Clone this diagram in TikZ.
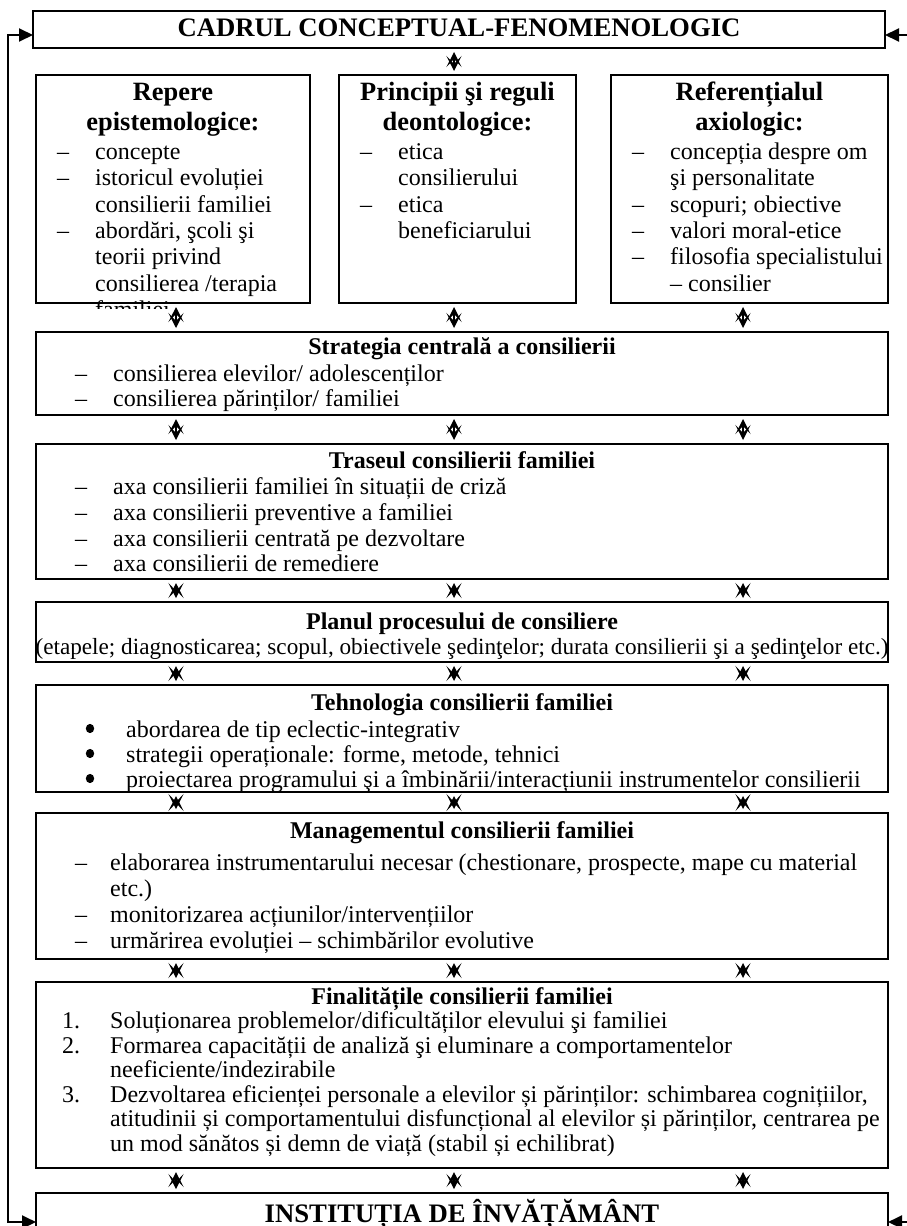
\documentclass[tikz,border=0pt]{standalone}
\usepackage{fontspec}
\setmainfont{Liberation Serif}
\usetikzlibrary{arrows.meta}
\newcommand{\dsh}[1]{\makebox[#1][l]{–}}
\newcommand{\ind}[1]{\hspace*{#1}}
\begin{document}
\begin{tikzpicture}[x=1pt,y=-1pt,
  box/.style={draw, line width=2pt, inner sep=0pt, outer sep=0pt, anchor=north west},
  body/.style={inner sep=0pt, anchor=base west, font=\fontsize{24}{26}\selectfont},
  head/.style={inner sep=0pt, anchor=base, font=\fontsize{24}{26}\selectfont\bfseries},
  bhead/.style={inner sep=0pt, anchor=base, font=\fontsize{26.4}{30}\selectfont\bfseries},
  bullet/.style={fill=black},
  link/.style={line width=1.5pt, shorten <=4pt, shorten >=4pt,
     {Stealth[length=15pt,width=15pt,inset=8pt]}-{Stealth[length=15pt,width=15pt,inset=8pt]}},
  feed/.style={line width=2pt, -{Triangle[length=14pt,width=13pt]}}]
\clip (0,0) rectangle (907,1226);
\useasboundingbox (0,0) rectangle (907,1226);
% boxes
\node[box, minimum width=852pt, minimum height=37pt] (top) at (33,11) {};
\node[box, minimum width=274pt, minimum height=228pt] (b1) at (36,75) {};
\node[box, minimum width=237pt, minimum height=228pt] (b2) at (339,75) {};
\node[box, minimum width=277pt, minimum height=228pt] (b3) at (611,75) {};
\node[box, minimum width=852pt, minimum height=83pt] (strat) at (36,332) {};
\node[box, minimum width=852pt, minimum height=135pt] (tras) at (36,444) {};
\node[box, minimum width=852pt, minimum height=60pt] (plan) at (36,602) {};
\node[box, minimum width=852pt, minimum height=107pt] (tehn) at (36,685) {};
\node[box, minimum width=852pt, minimum height=146pt] (mgmt) at (36,813) {};
\node[box, minimum width=852pt, minimum height=186pt] (fin) at (36,982) {};
\node[box, minimum width=852pt, minimum height=60pt] (inst) at (36,1193) {};
% title
\node[bhead, font=\fontsize{26.7}{30}\selectfont\bfseries] (ttop) at (459,36.7) {CADRUL CONCEPTUAL-FENOMENOLOGIC};
% box 1
\node[bhead] (h1a) at (173,100.7) {Repere};
\node[bhead] (h1b) at (173,130.7) {epistemologice:};
\node[body] (l1a) at (57,159.3) {\dsh{38pt}concepte};
\node[body] (l1b) at (57,185.7) {\dsh{38pt}istoricul evoluției};
\node[body] (l1c) at (57,212.1) {\ind{38pt}consilierii familiei};
\node[body] (l1d) at (57,238.5) {\dsh{38pt}abordări, şcoli şi};
\node[body] (l1e) at (57,264.9) {\ind{38pt}teorii privind};
\node[body] (l1f) at (57,291.3) {\ind{38pt}consilierea /terapia};
\begin{scope}
\clip (36,75) rectangle (310,308);
\node[body] (l1g) at (57,317.7) {\ind{38pt}familiei};
\end{scope}
% box 2
\node[bhead] (h2a) at (457.5,100.7) {Principii şi reguli};
\node[bhead] (h2b) at (457.5,130.7) {deontologice:};
\node[body] (l2a) at (360,159.3) {\dsh{38pt}etica};
\node[body] (l2b) at (360,185.7) {\ind{38pt}consilierului};
\node[body] (l2c) at (360,212.1) {\dsh{38pt}etica};
\node[body] (l2d) at (360,238.5) {\ind{38pt}beneficiarului};
% box 3
\node[bhead] (h3a) at (749.5,100.7) {Referențialul};
\node[bhead] (h3b) at (749.5,130.7) {axiologic:};
\node[body] (l3a) at (632,159.3) {\dsh{38pt}concepția despre om};
\node[body] (l3b) at (632,185.7) {\ind{38pt}şi personalitate};
\node[body] (l3c) at (632,212.1) {\dsh{38pt}scopuri; obiective};
\node[body] (l3d) at (632,238.5) {\dsh{38pt}valori moral-etice};
\node[body] (l3e) at (632,264.9) {\dsh{38pt}filosofia specialistului};
\node[body] (l3f) at (632,291.3) {\ind{38pt}– consilier};
% strategia
\node[head] (hs) at (462,354.5) {Strategia centrală a consilierii};
\node[body] (ls1) at (75,381.5) {\dsh{38pt}consilierea elevilor/ adolescenților};
\node[body] (ls2) at (75,406.5) {\dsh{38pt}consilierea părinților/ familiei};
% traseul
\node[head] (ht) at (462,468.3) {Traseul consilierii familiei};
\node[body] (lt1) at (75,494.3) {\dsh{38pt}axa consilierii familiei în situații de criză};
\node[body] (lt2) at (75,520) {\dsh{38pt}axa consilierii preventive a familiei};
\node[body] (lt3) at (75,546) {\dsh{38pt}axa consilierii centrată pe dezvoltare};
\node[body] (lt4) at (75,571.7) {\dsh{38pt}axa consilierii de remediere};
% planul
\node[head] (hp) at (462,629) {Planul procesului de consiliere};
\node[body, anchor=base, font=\fontsize{23.2}{26}\selectfont] (lp) at (462,654) {(etapele; diagnosticarea; scopul, obiectivele şedinţelor; durata consilierii şi a şedinţelor etc.)};
% tehnologia
\node[head] (hte) at (462,710) {Tehnologia consilierii familiei};
\node[body] (le1) at (126,737) {abordarea de tip eclectic-integrativ};
\node[body] (le2) at (126,762) {strategii operaționale: forme, metode, tehnici};
\node[body] (le3) at (126,787) {proiectarea programului şi a îmbinării/interacțiunii instrumentelor consilierii};
\foreach \n in {le1,le2,le3}
  \fill[bullet] ([xshift=-36pt,yshift=8.5pt]\n.base west) ellipse (4.2pt and 4.6pt);
% managementul
\node[head] (hm) at (462,838) {Managementul consilierii familiei};
\node[body] (lm1) at (75,870) {\dsh{35pt}elaborarea instrumentarului necesar (chestionare, prospecte, mape cu material};
\node[body] (lm2) at (75,896) {\ind{35pt}etc.)};
\node[body] (lm3) at (75,922) {\dsh{35pt}monitorizarea acțiunilor/intervențiilor};
\node[body] (lm4) at (75,948) {\dsh{35pt}urmărirea evoluției – schimbărilor evolutive};
% finalitatile
\node[head] (hf) at (462,1004) {Finalitățile consilierii familiei};
\node[body] (lf1) at (62,1028) {\makebox[48pt][l]{1.}Soluționarea problemelor/dificultăților elevului şi familiei};
\node[body] (lf2) at (62,1053) {\makebox[48pt][l]{2.}Formarea capacității de analiză şi eluminare a comportamentelor};
\node[body] (lf3) at (62,1077) {\ind{48pt}neeficiente/indezirabile};
\node[body] (lf4) at (62,1102) {\makebox[48pt][l]{3.}Dezvoltarea eficienței personale a elevilor și părinților: schimbarea cognițiilor,};
\node[body] (lf5) at (62,1126) {\ind{48pt}atitudinii și comportamentului disfuncțional al elevilor și părinților, centrarea pe};
\node[body] (lf6) at (62,1151) {\ind{48pt}un mod sănătos și demn de viață (stabil și echilibrat)};
% institutia
\node[bhead, font=\fontsize{26.7}{30}\selectfont\bfseries] (hi) at (462,1222) {INSTITUȚIA DE ÎNVĂȚĂMÂNT};
% connectors
\coordinate (cL) at (176,0);
\coordinate (cM) at (454,0);
\coordinate (cR) at (743,0);
\draw[link] (top.south -| cM) -- (b2.north -| cM);
\draw[link] (b1.south -| cL) -- (strat.north -| cL);
\draw[link] (b2.south -| cM) -- (strat.north -| cM);
\draw[link] (b3.south -| cR) -- (strat.north -| cR);
\foreach \a/\b in {strat/tras, tras/plan, plan/tehn, tehn/mgmt, mgmt/fin, fin/inst}{
  \draw[link] (\a.south -| cL) -- (\b.north -| cL);
  \draw[link] (\a.south -| cM) -- (\b.north -| cM);
  \draw[link] (\a.south -| cR) -- (\b.north -| cR);
}
% feedback lines
\coordinate (fl) at (8,35);
\coordinate (fb) at (8,1222);
\coordinate (fr) at (907,35);
\coordinate (frb) at (907,1222);
\draw[line width=2pt, {Triangle[length=14pt,width=13pt]}-{Triangle[length=14pt,width=13pt]}]
  (inst.west |- fb) -- (fb) -- (fl) -- (top.west |- fl);
\draw[feed] (fr) -- (top.east |- fr);
\draw[feed] (frb) -- (inst.east |- frb);
\end{tikzpicture}
\end{document}
